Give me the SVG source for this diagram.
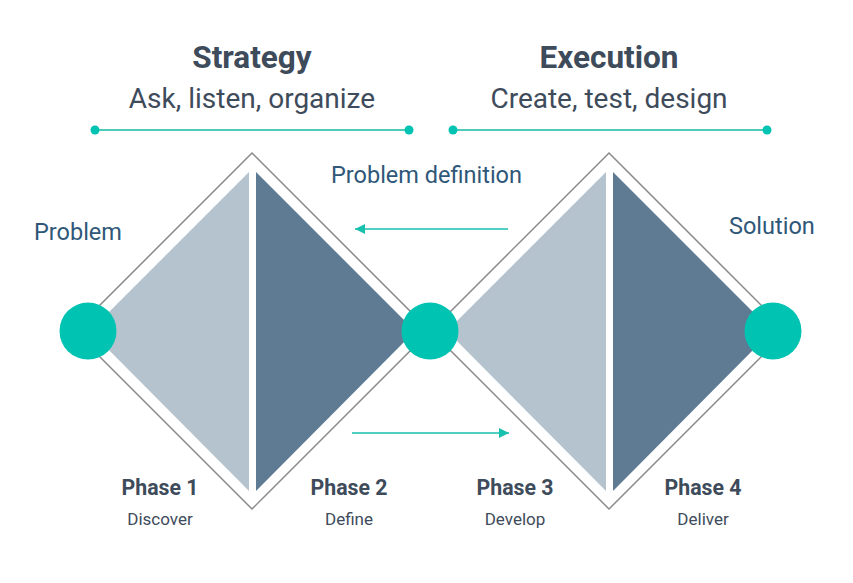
<svg xmlns="http://www.w3.org/2000/svg" width="853" height="583" viewBox="0 0 853 583">
<style>
.h{font-family:Roboto,"Liberation Sans",sans-serif;font-weight:700;font-size:31.5px;fill:#3e4b5b;text-anchor:middle}
.s{font-family:Roboto,"Liberation Sans",sans-serif;font-size:28px;fill:#3e4b5b;text-anchor:middle}
.l{font-family:Roboto,"Liberation Sans",sans-serif;font-size:23.5px;fill:#2f5778}
.p{font-family:Roboto,"Liberation Sans",sans-serif;font-weight:700;font-size:21.3px;fill:#3e4b5b;text-anchor:middle}
.d{font-family:Roboto,"Liberation Sans",sans-serif;font-size:17px;fill:#3e4b5b;text-anchor:middle}
.outline{fill:none;stroke:#8a8a8a;stroke-width:1.5}
.light{fill:#b4c3ce}
.dark{fill:#5f7b93}
.dot{fill:#00c3b2}
.tl{stroke:#4fcab9;stroke-width:2}
.arr{stroke:#17c1ad;stroke-width:1.6;fill:none}
</style>
<defs>
<marker id="ah" viewBox="0 0 10 10" refX="10" refY="5" markerWidth="10" markerHeight="10" markerUnits="userSpaceOnUse" orient="auto">
<path d="M0,0 L10,5 L0,10 Z" fill="#17c1ad"/>
</marker>
</defs>
<rect width="853" height="583" fill="#ffffff"/>
<g id="strategy-header">
<text class="h" x="252" y="68">Strategy</text>
<text class="s" x="252" y="108">Ask, listen, organize</text>
<line class="tl" x1="95" y1="130" x2="409" y2="130"/>
<circle class="dot" cx="95" cy="130" r="4.5"/>
<circle class="dot" cx="409" cy="130" r="4.5"/>
</g>
<g id="execution-header">
<text class="h" x="609" y="68">Execution</text>
<text class="s" x="609" y="108">Create, test, design</text>
<line class="tl" x1="453" y1="130" x2="767" y2="130"/>
<circle class="dot" cx="453" cy="130" r="4.5"/>
<circle class="dot" cx="767" cy="130" r="4.5"/>
</g>
<g id="diamond-left">
<polygon class="outline" points="252,153 430,331 252,509 74,331"/>
<polygon class="light" points="249,172 249,491 90,331"/>
<polygon class="dark" points="256,172 256,491 415,331"/>
</g>
<g id="diamond-right">
<polygon class="outline" points="609,153 787,331 609,509 431,331"/>
<polygon class="light" points="606,172 606,491 447,331"/>
<polygon class="dark" points="613,172 613,491 772,331"/>
</g>
<g id="node-problem">
<circle class="dot" cx="88" cy="331" r="28.5"/>
<text class="l" x="34" y="240">Problem</text>
</g>
<g id="node-middle">
<circle class="dot" cx="430" cy="331" r="28.5"/>
</g>
<g id="node-solution">
<circle class="dot" cx="773" cy="331" r="28.5"/>
<text class="l" x="729" y="234">Solution</text>
</g>
<g id="connectors">
<line class="arr" x1="508" y1="229" x2="355" y2="229" marker-end="url(#ah)"/>
<line class="arr" x1="352" y1="433" x2="509" y2="433" marker-end="url(#ah)"/>
</g>
<text class="l" x="331" y="183">Problem definition</text>
<g id="phase-1"><text class="p" x="160" y="495">Phase 1</text><text class="d" x="160" y="525">Discover</text></g>
<g id="phase-2"><text class="p" x="349" y="495">Phase 2</text><text class="d" x="349" y="525">Define</text></g>
<g id="phase-3"><text class="p" x="515" y="495">Phase 3</text><text class="d" x="515" y="525">Develop</text></g>
<g id="phase-4"><text class="p" x="703" y="495">Phase 4</text><text class="d" x="703" y="525">Deliver</text></g>
</svg>
